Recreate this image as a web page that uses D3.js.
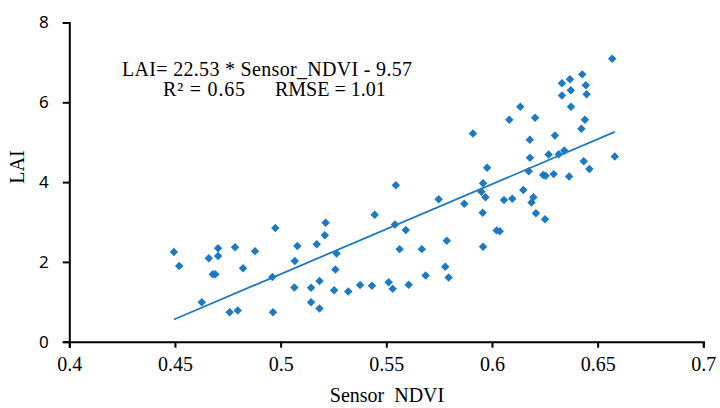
<!DOCTYPE html>
<html lang="en">
<head>
<meta charset="utf-8">
<title>LAI vs Sensor NDVI</title>
<script src="https://cdn.jsdelivr.net/npm/d3@7"></script>
<style>
  body { margin: 0; background: #fff; }
</style>
</head>
<body>
<script>
// data
var ndvi = [0.4495,0.4520,0.4627,0.4660,0.4679,0.4691,0.4704,0.4704,0.4759,0.4784,
  0.4797,0.4822,0.4879,0.4975,0.4961,0.4964,0.5067,0.5079,0.5065,0.5144,
  0.5144,0.5171,0.5184,0.5184,0.5209,0.5213,0.5265,0.5259,0.5253,0.5320,
  0.5376,0.5432,0.5445,0.5545,0.5541,0.5592,0.5563,0.5511,0.5530,0.5606,
  0.5668,0.5686,0.5748,0.5786,0.5779,0.5795,0.6569,0.6427,0.6369,0.6331,
  0.6444,0.6373,0.6331,0.6448,0.6134,0.6374,0.6082,0.6204,0.6440,0.6423,
  0.5910,0.6179,0.6298,0.6180,0.6268,0.6316,0.6342,0.6581,0.6434,0.6461,
  0.5977,0.6174,0.5958,0.6242,0.6254,0.6292,0.6365,0.5950,0.5969,0.6148,
  0.6196,0.6187,0.5869,0.6057,0.6096,0.5956,0.6208,0.6251,0.6022,0.6037,
  0.5958];
var lai = [2.25,1.90,0.99,2.09,1.69,1.69,2.34,2.15,0.74,2.37,
  0.78,1.84,2.27,2.85,1.62,0.74,2.02,2.40,1.36,1.35,
  0.99,2.44,1.52,0.83,2.67,2.98,2.21,1.81,1.29,1.26,
  1.42,1.40,3.18,3.92,2.94,2.80,2.32,1.49,1.33,1.43,
  2.32,1.66,3.57,2.53,1.88,1.61,7.09,6.70,6.58,6.48,
  6.43,6.30,6.17,6.20,5.89,5.89,5.56,5.61,5.56,5.34,
  5.22,5.06,5.17,4.61,4.69,4.70,4.79,4.64,4.52,4.33,
  4.36,4.27,3.97,4.18,4.16,4.20,4.14,3.76,3.62,3.80,
  3.62,3.49,3.46,3.55,3.58,3.23,3.22,3.07,2.79,2.77,
  2.38];
var xTicks = [0.4, 0.45, 0.5, 0.55, 0.6, 0.65, 0.7];
var yTicks = [0, 2, 4, 6, 8];
var slope = 22.53, intercept = -9.57;

var w = 720, h = 408;
var blue = "#1c7ac3";
var serif = "'Liberation Serif', 'Times New Roman', serif";

var svg = d3.select("body").append("svg")
    .attr("width", w)
    .attr("height", h);

var x = d3.scaleLinear().domain([0.4, 0.7]).range([69.3, 703.3]);
var y = d3.scaleLinear().domain([0, 8]).range([341.7, 22.5]);

// x axis
var xAxis = svg.append("g")
    .attr("transform", "translate(0," + y(0) + ")")
    .call(d3.axisBottom(x).tickValues(xTicks).tickSize(6).tickPadding(9)
        .tickFormat(function(d) { return String(d); }));
xAxis.selectAll("path, line").attr("stroke", "#000").attr("stroke-width", 2);
xAxis.selectAll("text")
    .attr("fill", "#000")
    .style("font-family", serif)
    .style("font-size", "20px");

// y axis
var yAxis = svg.append("g")
    .attr("transform", "translate(" + x(0.4) + ",0)")
    .call(d3.axisLeft(y).tickValues(yTicks).tickSize(6.5).tickPadding(14));
yAxis.selectAll("path, line").attr("stroke", "#000").attr("stroke-width", 2);
yAxis.selectAll("text")
    .attr("fill", "#000")
    .style("font-family", "'Noto Sans', 'Open Sans', sans-serif")
    .style("font-size", "17px");

// axis titles
svg.append("text")
    .attr("x", 387)
    .attr("y", 402)
    .attr("text-anchor", "middle")
    .style("font-family", serif)
    .style("font-size", "20px")
    .text("Sensor\u00a0 NDVI");

svg.append("text")
    .attr("transform", "translate(24,167) rotate(-90)")
    .attr("text-anchor", "middle")
    .style("font-family", serif)
    .style("font-size", "20px")
    .text("LAI");

// regression line over data range
var xmin = d3.min(ndvi), xmax = d3.max(ndvi);
svg.append("line")
    .attr("x1", x(xmin)).attr("y1", y(slope * xmin + intercept))
    .attr("x2", x(xmax)).attr("y2", y(slope * xmax + intercept))
    .attr("stroke", blue)
    .attr("stroke-width", 1.8);

// points (diamonds)
var diamond = d3.symbol().type(d3.symbolSquare).size(36);
svg.append("g").selectAll("path")
    .data(d3.range(ndvi.length))
    .enter()
    .append("path")
    .attr("d", diamond)
    .attr("transform", function(i) {
        return "translate(" + x(ndvi[i]) + "," + y(lai[i]) + ") rotate(45)";
    })
    .attr("fill", blue);

// equation text
svg.append("text")
    .attr("x", 122).attr("y", 75.5)
    .attr("textLength", 290).attr("lengthAdjust", "spacing")
    .style("font-family", serif).style("font-size", "20px")
    .text("LAI= 22.53 * Sensor_NDVI - 9.57");
svg.append("text")
    .attr("x", 163).attr("y", 95.5)
    .attr("textLength", 82).attr("lengthAdjust", "spacing")
    .style("font-family", serif).style("font-size", "20px")
    .text("R\u00b2 = 0.65");
svg.append("text")
    .attr("x", 275).attr("y", 95.5)
    .style("font-family", serif).style("font-size", "20px")
    .text("RMSE = 1.01");
</script>
</body>
</html>
